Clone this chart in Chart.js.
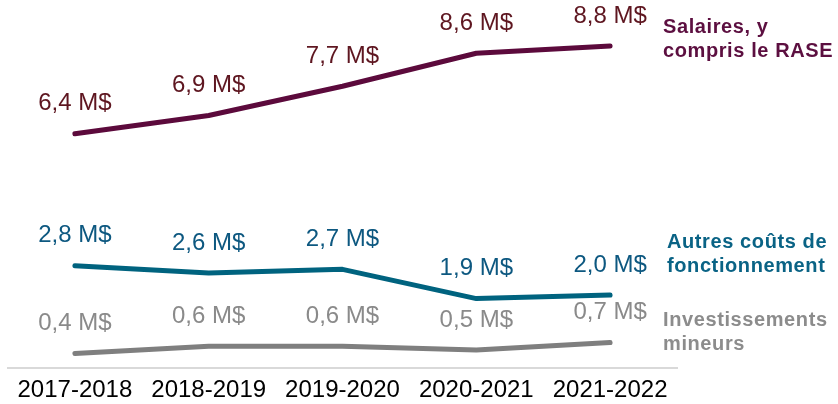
<!DOCTYPE html>
<html><head><meta charset="utf-8">
<script src="https://cdn.jsdelivr.net/npm/chart.js@4/dist/chart.umd.min.js"></script>
<style>html,body{margin:0;padding:0;background:#fff}#wrap{width:838px;height:404px}</style>
</head><body><div id="wrap"><canvas id="c" width="838" height="404"></canvas></div>
<script>
const categories = ["2017-2018","2018-2019","2019-2020","2020-2021","2021-2022"];
const salaires = [6.4, 6.9, 7.7, 8.6, 8.8];
const autres = [2.8, 2.6, 2.7, 1.9, 2.0];
const investissements = [0.4, 0.6, 0.6, 0.5, 0.7];
const seriesNames = [["Salaires, y","compris le RASE"],["Autres coûts de","fonctionnement"],["Investissements","mineurs"]];

const lineColors = ["#5c0a3c","#00637f","#7f7f7f"];
const valueColors = ["#5e1620","#0d5880","#8a8a8a"];
const nameColors = ["#5c0f40","#0a6385","#8c8c8c"];
const nameOffsets = [-13,-47,-17];
const nameIndent = [663,667,663];

const fmt = v => v.toFixed(1).replace('.', ',') + ' M$';

const labelPlugin = {
  id:'labels',
  afterDatasetsDraw(chart){
    const ctx = chart.ctx;
    ctx.save();
    chart.data.datasets.forEach((ds,i)=>{
      const meta = chart.getDatasetMeta(i);
      ctx.font = '24px "Liberation Sans", Arial, sans-serif';
      ctx.fillStyle = valueColors[i];
      ctx.textAlign = 'center';
      ctx.textBaseline = 'middle';
      meta.data.forEach((pt,j)=>{
        ctx.fillText(fmt(ds.data[j]), pt.x, pt.y - 30);
      });
      const last = meta.data[meta.data.length-1];
      ctx.font = 'bold 20px "Liberation Sans", Arial, sans-serif';
      ctx.fillStyle = nameColors[i];
      ctx.textAlign = 'left';
      ctx.textBaseline = 'alphabetic';
      ctx.letterSpacing = '0.6px';
      const lines = seriesNames[i];
      const by = last.y + nameOffsets[i];
      ctx.fillText(lines[0], nameIndent[i], by);
      ctx.fillText(lines[1], nameIndent[i], by + 24);
      ctx.letterSpacing = '0px';
    });
    ctx.restore();
  }
};

const mk = (data,i)=>({data, borderColor:lineColors[i], borderWidth:5, borderCapStyle:'round', borderJoinStyle:'round', pointRadius:0, tension:0, fill:false});

new Chart(document.getElementById('c'),{
  type:'line',
  data:{labels:categories, datasets:[mk(salaires,0),mk(autres,1),mk(investissements,2)]},
  options:{
    responsive:false, animation:false, devicePixelRatio:1,
    layout:{padding:{left:8,right:161,top:2,bottom:-9}},
    plugins:{legend:{display:false},tooltip:{enabled:false}},
    scales:{
      x:{offset:true, grid:{display:false,drawTicks:false}, border:{display:true,color:'#d9d9d9',width:2},
         ticks:{color:'#000',padding:8,font:{family:'"Liberation Sans", Arial, sans-serif',size:24}}},
      y:{display:false,min:0,max:10}
    }
  },
  plugins:[labelPlugin]
});
</script></body></html>
